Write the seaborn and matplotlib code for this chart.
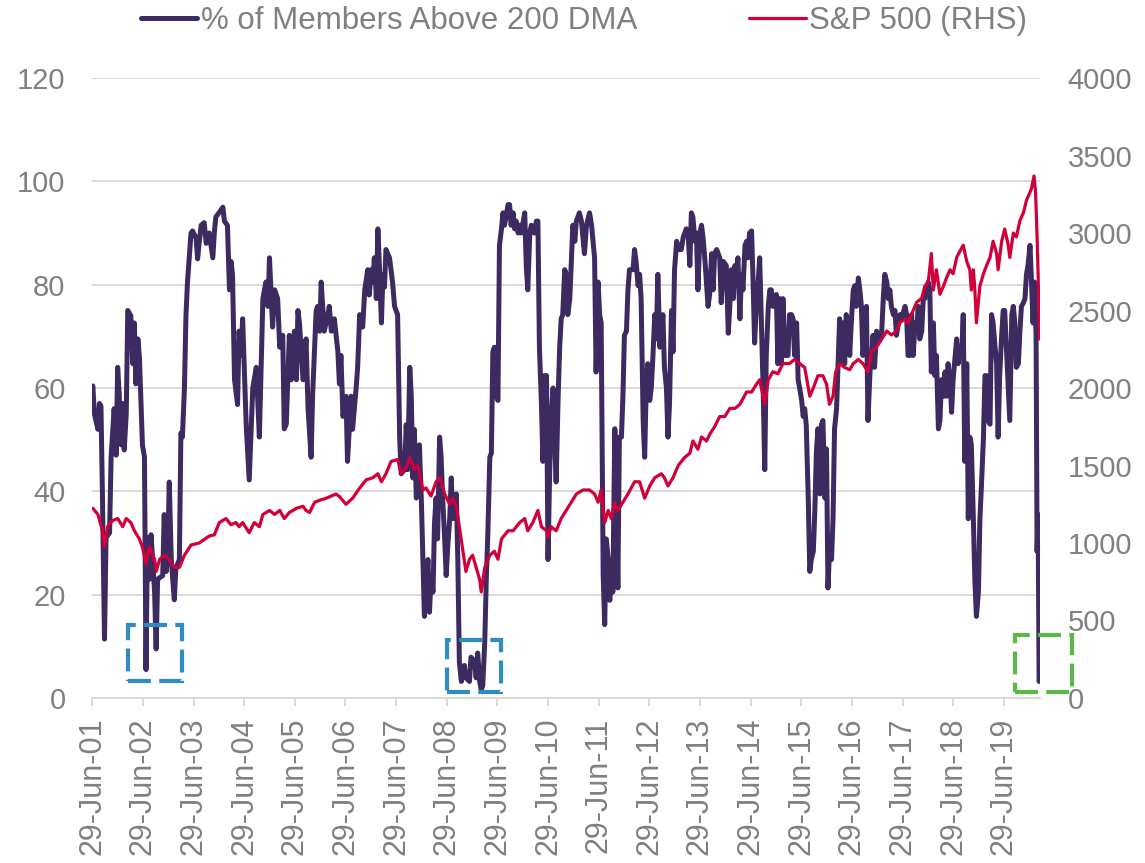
import pandas as pd
import matplotlib
matplotlib.use('Agg')
import matplotlib.pyplot as plt
import matplotlib.dates as mdates
from matplotlib.patches import Rectangle
import seaborn as sns

# % of index members above their 200 DMA (decimal year, value)
dma_years = [2001.50, 2001.53, 2001.60, 2001.63, 2001.66, 2001.69, 2001.73, 2001.76, 2001.83, 2001.86,
             2001.92, 2001.96, 2001.99, 2002.02, 2002.06, 2002.09, 2002.12, 2002.16, 2002.19, 2002.25,
             2002.29, 2002.32, 2002.35, 2002.39, 2002.42, 2002.48, 2002.52, 2002.55, 2002.58, 2002.62,
             2002.65, 2002.72, 2002.75, 2002.78, 2002.88, 2002.91, 2002.95, 2002.98, 2003.01, 2003.05,
             2003.08, 2003.11, 2003.14, 2003.21, 2003.24, 2003.27, 2003.31, 2003.34, 2003.37, 2003.44,
             2003.47, 2003.54, 2003.57, 2003.60, 2003.64, 2003.70, 2003.74, 2003.80, 2003.87, 2003.90,
             2003.93, 2004.00, 2004.07, 2004.10, 2004.16, 2004.20, 2004.23, 2004.26, 2004.30, 2004.36,
             2004.39, 2004.43, 2004.46, 2004.53, 2004.59, 2004.66, 2004.73, 2004.79, 2004.86, 2004.92,
             2004.96, 2004.99, 2005.05, 2005.09, 2005.15, 2005.19, 2005.25, 2005.28, 2005.32, 2005.38,
             2005.42, 2005.48, 2005.52, 2005.55, 2005.58, 2005.65, 2005.71, 2005.75, 2005.81, 2005.84,
             2005.91, 2005.94, 2005.98, 2006.01, 2006.04, 2006.07, 2006.14, 2006.17, 2006.21, 2006.27,
             2006.34, 2006.37, 2006.40, 2006.44, 2006.50, 2006.53, 2006.60, 2006.63, 2006.70, 2006.73,
             2006.77, 2006.83, 2006.87, 2006.93, 2006.96, 2007.00, 2007.03, 2007.06, 2007.10, 2007.13,
             2007.16, 2007.20, 2007.23, 2007.26, 2007.29, 2007.36, 2007.42, 2007.46, 2007.52, 2007.56,
             2007.59, 2007.66, 2007.69, 2007.72, 2007.76, 2007.79, 2007.82, 2007.85, 2007.89, 2007.95,
             2007.99, 2008.02, 2008.05, 2008.08, 2008.12, 2008.15, 2008.18, 2008.22, 2008.25, 2008.28,
             2008.31, 2008.35, 2008.38, 2008.41, 2008.45, 2008.48, 2008.51, 2008.55, 2008.58, 2008.61,
             2008.68, 2008.71, 2008.74, 2008.78, 2008.84, 2008.87, 2008.94, 2008.97, 2009.04, 2009.07,
             2009.10, 2009.14, 2009.17, 2009.20, 2009.24, 2009.27, 2009.30, 2009.34, 2009.37, 2009.40,
             2009.43, 2009.47, 2009.50, 2009.53, 2009.57, 2009.60, 2009.63, 2009.70, 2009.73, 2009.76,
             2009.80, 2009.83, 2009.86, 2009.90, 2009.93, 2009.96, 2010.03, 2010.06, 2010.09, 2010.13,
             2010.16, 2010.22, 2010.26, 2010.29, 2010.32, 2010.36, 2010.39, 2010.42, 2010.46, 2010.49,
             2010.52, 2010.55, 2010.59, 2010.62, 2010.65, 2010.69, 2010.72, 2010.75, 2010.78, 2010.82,
             2010.85, 2010.88, 2010.92, 2010.95, 2010.98, 2011.02, 2011.05, 2011.11, 2011.15, 2011.21,
             2011.25, 2011.31, 2011.35, 2011.38, 2011.41, 2011.44, 2011.48, 2011.51, 2011.54, 2011.58,
             2011.61, 2011.64, 2011.68, 2011.71, 2011.74, 2011.77, 2011.81, 2011.84, 2011.87, 2011.90,
             2011.94, 2011.97, 2012.00, 2012.04, 2012.07, 2012.10, 2012.17, 2012.20, 2012.23, 2012.27,
             2012.30, 2012.33, 2012.37, 2012.40, 2012.43, 2012.46, 2012.50, 2012.53, 2012.56, 2012.60,
             2012.63, 2012.66, 2012.70, 2012.73, 2012.76, 2012.79, 2012.83, 2012.86, 2012.89, 2012.93,
             2012.96, 2012.99, 2013.03, 2013.06, 2013.12, 2013.16, 2013.19, 2013.22, 2013.26, 2013.29,
             2013.32, 2013.35, 2013.39, 2013.42, 2013.45, 2013.49, 2013.52, 2013.55, 2013.59, 2013.65,
             2013.68, 2013.72, 2013.75, 2013.78, 2013.82, 2013.88, 2013.91, 2013.95, 2014.01, 2014.05,
             2014.08, 2014.11, 2014.15, 2014.18, 2014.21, 2014.24, 2014.28, 2014.31, 2014.34, 2014.38,
             2014.41, 2014.44, 2014.47, 2014.51, 2014.54, 2014.57, 2014.61, 2014.64, 2014.67, 2014.70,
             2014.74, 2014.77, 2014.80, 2014.84, 2014.87, 2014.90, 2014.93, 2014.97, 2015.00, 2015.03,
             2015.07, 2015.10, 2015.13, 2015.17, 2015.20, 2015.23, 2015.26, 2015.30, 2015.33, 2015.36,
             2015.40, 2015.43, 2015.46, 2015.50, 2015.53, 2015.56, 2015.59, 2015.63, 2015.66, 2015.69,
             2015.73, 2015.76, 2015.79, 2015.82, 2015.86, 2015.89, 2015.92, 2015.96, 2015.99, 2016.02,
             2016.05, 2016.09, 2016.12, 2016.15, 2016.19, 2016.22, 2016.25, 2016.29, 2016.32, 2016.35,
             2016.38, 2016.42, 2016.45, 2016.48, 2016.52, 2016.55, 2016.58, 2016.62, 2016.65, 2016.68,
             2016.71, 2016.75, 2016.78, 2016.81, 2016.85, 2016.88, 2016.91, 2016.94, 2016.98, 2017.04,
             2017.08, 2017.11, 2017.14, 2017.18, 2017.21, 2017.24, 2017.27, 2017.31, 2017.34, 2017.37,
             2017.41, 2017.44, 2017.47, 2017.54, 2017.57, 2017.60, 2017.64, 2017.67, 2017.70, 2017.74,
             2017.77, 2017.80, 2017.83, 2017.87, 2017.90, 2017.93, 2017.97, 2018.00, 2018.03, 2018.06,
             2018.10, 2018.13, 2018.16, 2018.20, 2018.23, 2018.26, 2018.30, 2018.33, 2018.36, 2018.39,
             2018.43, 2018.46, 2018.49, 2018.56, 2018.59, 2018.62, 2018.66, 2018.69, 2018.72, 2018.76,
             2018.79, 2018.82, 2018.85, 2018.89, 2018.92, 2018.95, 2018.99, 2019.02, 2019.05, 2019.09,
             2019.12, 2019.15, 2019.18, 2019.22, 2019.25, 2019.28, 2019.32, 2019.35, 2019.38, 2019.41,
             2019.45, 2019.48, 2019.51, 2019.55, 2019.58, 2019.61, 2019.65, 2019.68, 2019.71, 2019.74,
             2019.78, 2019.81, 2019.84, 2019.88, 2019.91, 2019.94, 2019.97, 2020.01, 2020.04, 2020.07,
             2020.10, 2020.13, 2020.15, 2020.17, 2020.19, 2020.20]
dma_vals = [60.4, 55, 52, 57, 56.5, 38.7, 11.4, 31, 32, 46.6,
            56, 47, 64, 59, 49, 57, 48, 55, 75, 74,
            64.7, 72.6, 60.8, 69.5, 66, 49, 46.6, 5.5, 31, 23,
            31.6, 20.5, 9.5, 23, 23.7, 35.5, 24.5, 28.4, 41.8, 26.8,
            23, 19, 25, 26.8, 51.3, 50.5, 60, 74, 80.5, 90,
            90.4, 89, 85, 88, 91.5, 92, 88, 90, 85.2, 90,
            93.1, 94, 95, 92.3, 91.5, 79, 84.5, 82, 61.6, 56.8,
            71, 66.3, 73.4, 52.9, 42.2, 60, 64, 50.5, 77.3, 80.5,
            75.8, 85.2, 71.8, 79, 77.3, 67.9, 70.2, 52.1, 53, 70.2,
            61.6, 71, 61.6, 75, 72.6, 61.6, 69.5, 56, 46.6, 58.6,
            75, 75.8, 71, 80.5, 75.8, 71, 74, 75.8, 71, 73.4,
            67, 60.8, 66.3, 54.5, 58.4, 45.8, 58.4, 52, 60, 64,
            74.2, 71.8, 79, 82.9, 78, 82.9, 80.5, 85.2, 77.3, 90.8,
            83.7, 72.6, 82, 79.5, 86.8, 85.2, 80.5, 75.8, 74.2, 50.5,
            43.4, 44.2, 52.9, 44.2, 64, 58.4, 42.6, 52, 38.7, 49,
            37.9, 26.8, 15.8, 21.3, 26.8, 16.6, 22.9, 20.5, 34, 38.7,
            30.8, 50.5, 46.6, 38.7, 30.8, 23.7, 29.2, 34.7, 42.6, 34.7,
            39.5, 26.8, 7, 3.2, 6.3, 3.9, 3.2, 7.9, 7.1, 3.9,
            8.7, 3.2, 1.6, 2.4, 11, 22.9, 31.6, 46.6, 47.4, 67,
            67.9, 58.4, 57.6, 87.6, 90.8, 93.9, 91.5, 95.5, 95.5, 91.5,
            93.9, 90.8, 92.3, 90, 91.5, 90, 93.9, 83.7, 79, 90,
            91.5, 90, 92.3, 92.3, 67.9, 56.8, 45.8, 62.4, 62.4, 26.8,
            42.6, 54.5, 60, 50.5, 41.8, 58.4, 67.9, 73.4, 74.2, 82.9,
            82, 74.2, 77.3, 84.5, 91.5, 88.4, 92.3, 93.9, 92.3, 86,
            91.5, 93.9, 91.5, 88.4, 85.2, 63.1, 80.5, 74.2, 72.6, 23.7,
            14.2, 30.8, 26.8, 18.9, 26.8, 20.5, 52.1, 38.7, 21.3, 50.5,
            50.5, 58.4, 70.2, 71, 79, 82.9, 82.9, 86.8, 84.5, 79.8,
            82, 77.3, 53.7, 46.6, 60, 64.7, 57.6, 60, 65.5, 74.2,
            69.5, 82, 67.9, 71, 74.2, 64, 60, 50.5, 56.8, 75,
            67, 82.9, 88.4, 86.8, 86.8, 89.2, 90, 90.8, 89.2, 83.7,
            93.9, 93.1, 88.4, 90, 79, 90, 91.5, 89.2, 84.5, 75.8,
            78, 86, 79, 86, 86.8, 85.2, 76.5, 84.5, 83.7, 70.6,
            75.8, 82.9, 77.3, 83.7, 82, 85.2, 73.4, 82, 79, 87.6,
            88.4, 85.2, 90, 90.4, 80.5, 68.7, 77.3, 80.5, 85.2, 74.2,
            59.2, 44.2, 66.3, 75.8, 79, 79, 75.8, 77.3, 78.1, 64.7,
            77.3, 64.7, 77.3, 66.3, 66.3, 66.3, 74.2, 74.2, 73.4, 66.3,
            72.6, 61.6, 60, 57.6, 54.5, 56, 52.9, 38.7, 24.5, 26.8,
            28.4, 36.3, 47.4, 52.1, 39.5, 52.9, 53.7, 38.7, 48.2, 21.3,
            28.4, 26.8, 34.7, 52.1, 56, 64.7, 73.4, 64.7, 72.6, 64.7,
            74.2, 71, 66.3, 72.6, 79, 79.8, 75.8, 81.3, 79, 75.8,
            66.3, 71, 75.8, 53.7, 63.1, 65.5, 70.2, 64, 71, 69.5,
            71, 77.3, 82, 80.5, 77.3, 79, 75.8, 74.2, 75, 70.2,
            72.6, 74.2, 73.4, 75.8, 74.2, 66.3, 66.3, 74.2, 66.3, 72.6,
            71, 75.8, 69.5, 71, 77.3, 77.3, 79, 80.5, 79, 63.1,
            72.6, 62.4, 66.3, 52.1, 53.7, 61.6, 58.4, 63.1, 58.4, 64.7,
            61.6, 55.3, 61.6, 69.5, 64.7, 67.9, 66.3, 74.2, 45.8, 64.7,
            34.7, 50.5, 49, 34.7, 22.9, 15.8, 20.5, 34.7, 41, 50.5,
            62.4, 62.4, 53.7, 53, 74.2, 72.6, 67.9, 64.7, 50.5, 62.4,
            70.2, 75, 75, 66.3, 60, 53.7, 74.2, 75.8, 72.6, 64,
            64.7, 71, 75.8, 76.5, 77.3, 82, 83.7, 87.6, 80.5, 72.6,
            80.5, 70.2, 28.4, 35.5, 3.2, 3.5]

# S&P 500 level, right axis (decimal year, index)
spx_years = [2001.50, 2001.60, 2001.69, 2001.73, 2001.79, 2001.89, 2001.99, 2002.09, 2002.16, 2002.25,
             2002.32, 2002.42, 2002.48, 2002.55, 2002.62, 2002.72, 2002.75, 2002.82, 2002.91, 2003.01,
             2003.11, 2003.21, 2003.31, 2003.44, 2003.60, 2003.80, 2003.90, 2004.00, 2004.13, 2004.23,
             2004.33, 2004.39, 2004.46, 2004.59, 2004.69, 2004.79, 2004.86, 2004.99, 2005.09, 2005.19,
             2005.28, 2005.38, 2005.52, 2005.65, 2005.71, 2005.78, 2005.88, 2005.98, 2006.11, 2006.21,
             2006.30, 2006.37, 2006.50, 2006.63, 2006.77, 2006.90, 2007.03, 2007.13, 2007.20, 2007.29,
             2007.39, 2007.52, 2007.59, 2007.69, 2007.76, 2007.85, 2007.92, 2008.02, 2008.08, 2008.18,
             2008.28, 2008.35, 2008.45, 2008.55, 2008.61, 2008.68, 2008.74, 2008.81, 2008.87, 2008.94,
             2009.00, 2009.07, 2009.14, 2009.17, 2009.24, 2009.34, 2009.43, 2009.50, 2009.57, 2009.70,
             2009.80, 2009.93, 2010.03, 2010.09, 2010.19, 2010.29, 2010.36, 2010.46, 2010.49, 2010.55,
             2010.65, 2010.75, 2010.85, 2010.95, 2011.05, 2011.18, 2011.31, 2011.41, 2011.48, 2011.54,
             2011.61, 2011.68, 2011.74, 2011.81, 2011.87, 2011.97, 2012.07, 2012.20, 2012.30, 2012.40,
             2012.50, 2012.60, 2012.73, 2012.79, 2012.86, 2012.96, 2013.06, 2013.19, 2013.29, 2013.35,
             2013.45, 2013.52, 2013.62, 2013.68, 2013.78, 2013.88, 2013.98, 2014.08, 2014.18, 2014.28,
             2014.41, 2014.51, 2014.61, 2014.67, 2014.77, 2014.84, 2014.93, 2015.03, 2015.13, 2015.26,
             2015.36, 2015.46, 2015.56, 2015.66, 2015.73, 2015.82, 2015.92, 2015.99, 2016.05, 2016.12,
             2016.17, 2016.25, 2016.35, 2016.45, 2016.52, 2016.62, 2016.71, 2016.81, 2016.88, 2016.98,
             2017.08, 2017.18, 2017.27, 2017.37, 2017.44, 2017.54, 2017.60, 2017.70, 2017.77, 2017.87,
             2017.93, 2018.00, 2018.06, 2018.10, 2018.16, 2018.23, 2018.30, 2018.36, 2018.43, 2018.49,
             2018.56, 2018.62, 2018.69, 2018.76, 2018.82, 2018.85, 2018.89, 2018.92, 2018.95, 2019.02,
             2019.09, 2019.15, 2019.22, 2019.28, 2019.35, 2019.38, 2019.45, 2019.51, 2019.58, 2019.61,
             2019.68, 2019.74, 2019.81, 2019.88, 2019.94, 2020.01, 2020.04, 2020.09, 2020.12, 2020.15,
             2020.17, 2020.20]
spx_vals = [1224, 1184, 1079, 974, 1105, 1145, 1158, 1105, 1158, 1132,
            1079, 1026, 974, 868, 974, 895, 816, 895, 921, 895,
            842, 842, 921, 987, 1000, 1045, 1053, 1132, 1158, 1118,
            1132, 1105, 1132, 1066, 1132, 1105, 1184, 1210, 1184, 1210,
            1158, 1197, 1224, 1237, 1210, 1197, 1263, 1276, 1289, 1303,
            1316, 1300, 1250, 1289, 1355, 1408, 1421, 1447, 1395, 1447,
            1526, 1539, 1447, 1487, 1553, 1474, 1500, 1342, 1355, 1303,
            1395, 1421, 1316, 1250, 1289, 1237, 1105, 947, 816, 895,
            921, 842, 763, 684, 842, 921, 947, 895, 1026, 1079,
            1079, 1132, 1158, 1079, 1132, 1210, 1105, 1079, 1039, 1105,
            1079, 1158, 1210, 1263, 1316, 1342, 1342, 1316, 1263, 1342,
            1132, 1210, 1158, 1263, 1210, 1263, 1316, 1395, 1395, 1289,
            1368, 1421, 1447, 1421, 1368, 1421, 1500, 1553, 1579, 1658,
            1605, 1684, 1658, 1700, 1750, 1816, 1816, 1868, 1868, 1895,
            1974, 1974, 2026, 2053, 1895, 2053, 2105, 2092, 2158, 2158,
            2184, 2158, 2132, 1947, 2000, 2079, 2079, 2026, 1895, 1947,
            2100, 2158, 2132, 2118, 2158, 2184, 2158, 2105, 2237, 2263,
            2316, 2368, 2342, 2368, 2421, 2447, 2421, 2500, 2553, 2579,
            2658, 2684, 2868, 2632, 2763, 2605, 2658, 2711, 2763, 2737,
            2842, 2880, 2921, 2816, 2763, 2632, 2763, 2632, 2421, 2658,
            2737, 2789, 2842, 2947, 2868, 2763, 2947, 3026, 2921, 2842,
            3000, 2974, 3079, 3132, 3211, 3263, 3289, 3368, 3263, 2974,
            2737, 2316]

series_labels = ['% of Members Above 200 DMA', 'S&P 500 (RHS)']
tick_years = list(range(2001, 2020))

# highlighted lows: (start year, end year, bottom, top, colour) in left-axis units
highlights = [(2002.19, 2003.27, 3.2, 14.2, '#2E8BC4'),
              (2008.49, 2009.57, 1.2, 11.2, '#2E8BC4'),
              (2019.71, 2020.84, 1.2, 12.2, '#5BBA47')]

PURPLE = '#3C2A60'
RED = '#D2003A'
GREY = '#808080'
GRID = '#D9D9D9'


def to_date(y):
    yr = int(y)
    return pd.Timestamp(yr, 1, 1) + pd.Timedelta(days=(y - yr) * 365.25)


dma = pd.DataFrame({'date': [to_date(y) for y in dma_years], 'pct': dma_vals})
spx = pd.DataFrame({'date': [to_date(y) for y in spx_years], 'spx': spx_vals})

sns.set_theme(style='white')
plt.rcParams['font.family'] = ['Liberation Sans', 'DejaVu Sans']

fig = plt.figure(figsize=(11.45, 8.63), dpi=100)
ax = fig.add_axes([0.0803, 0.1912, 0.8279, 0.7184])
ax2 = ax.twinx()

sns.lineplot(data=dma, x='date', y='pct', ax=ax, color=PURPLE, linewidth=3.6,
             estimator=None, legend=False)
sns.lineplot(data=spx, x='date', y='spx', ax=ax2, color=RED, linewidth=2.3,
             estimator=None, legend=False)

ax.set_xlim(pd.Timestamp('2001-06-26'), pd.Timestamp('2020-03-16'))
ax.set_ylim(0, 120)
ax2.set_ylim(0, 4000)
ax.set_yticks(range(0, 121, 20))
ax2.set_yticks(range(0, 4001, 500))
ax.set_xticks([pd.Timestamp(y, 6, 29) for y in tick_years])
ax.xaxis.set_major_formatter(mdates.DateFormatter('%d-%b-%y'))

ax.set_xlabel('')
ax.set_ylabel('')
ax2.set_ylabel('')

ax.yaxis.grid(True, color=GRID, linewidth=1.4)
ax.set_axisbelow(True)

for a in (ax, ax2):
    for side in ('top', 'left', 'right'):
        a.spines[side].set_visible(False)
ax2.spines['bottom'].set_visible(False)
ax.spines['bottom'].set_color(GRID)
ax.spines['bottom'].set_linewidth(1.4)

ax.tick_params(axis='x', which='major', bottom=True, length=6, width=1.4, color=GRID,
               labelsize=22, labelcolor=GREY, labelrotation=90, pad=8)
ax.tick_params(axis='y', length=0, labelsize=21, labelcolor=GREY, pad=19)
ax2.tick_params(axis='y', length=0, labelsize=21, labelcolor=GREY, pad=20)

for x0, x1, y0, y1, col in highlights:
    d0 = mdates.date2num(to_date(x0))
    d1 = mdates.date2num(to_date(x1))
    ax.add_patch(Rectangle((d0, y0), d1 - d0, y1 - y0, fill=False, edgecolor=col,
                           linewidth=3, linestyle=(0, (5.5, 2)), clip_on=False, zorder=5))

handles = [ax.get_lines()[0], ax2.get_lines()[0]]
fig.legend(handles, series_labels, loc='center', bbox_to_anchor=(0.51, 0.976), ncol=2,
           frameon=False, fontsize=22.5, labelcolor=GREY, handlelength=1.8,
           handletextpad=0.1, columnspacing=3.6)

fig.savefig('out.png', dpi=100)
